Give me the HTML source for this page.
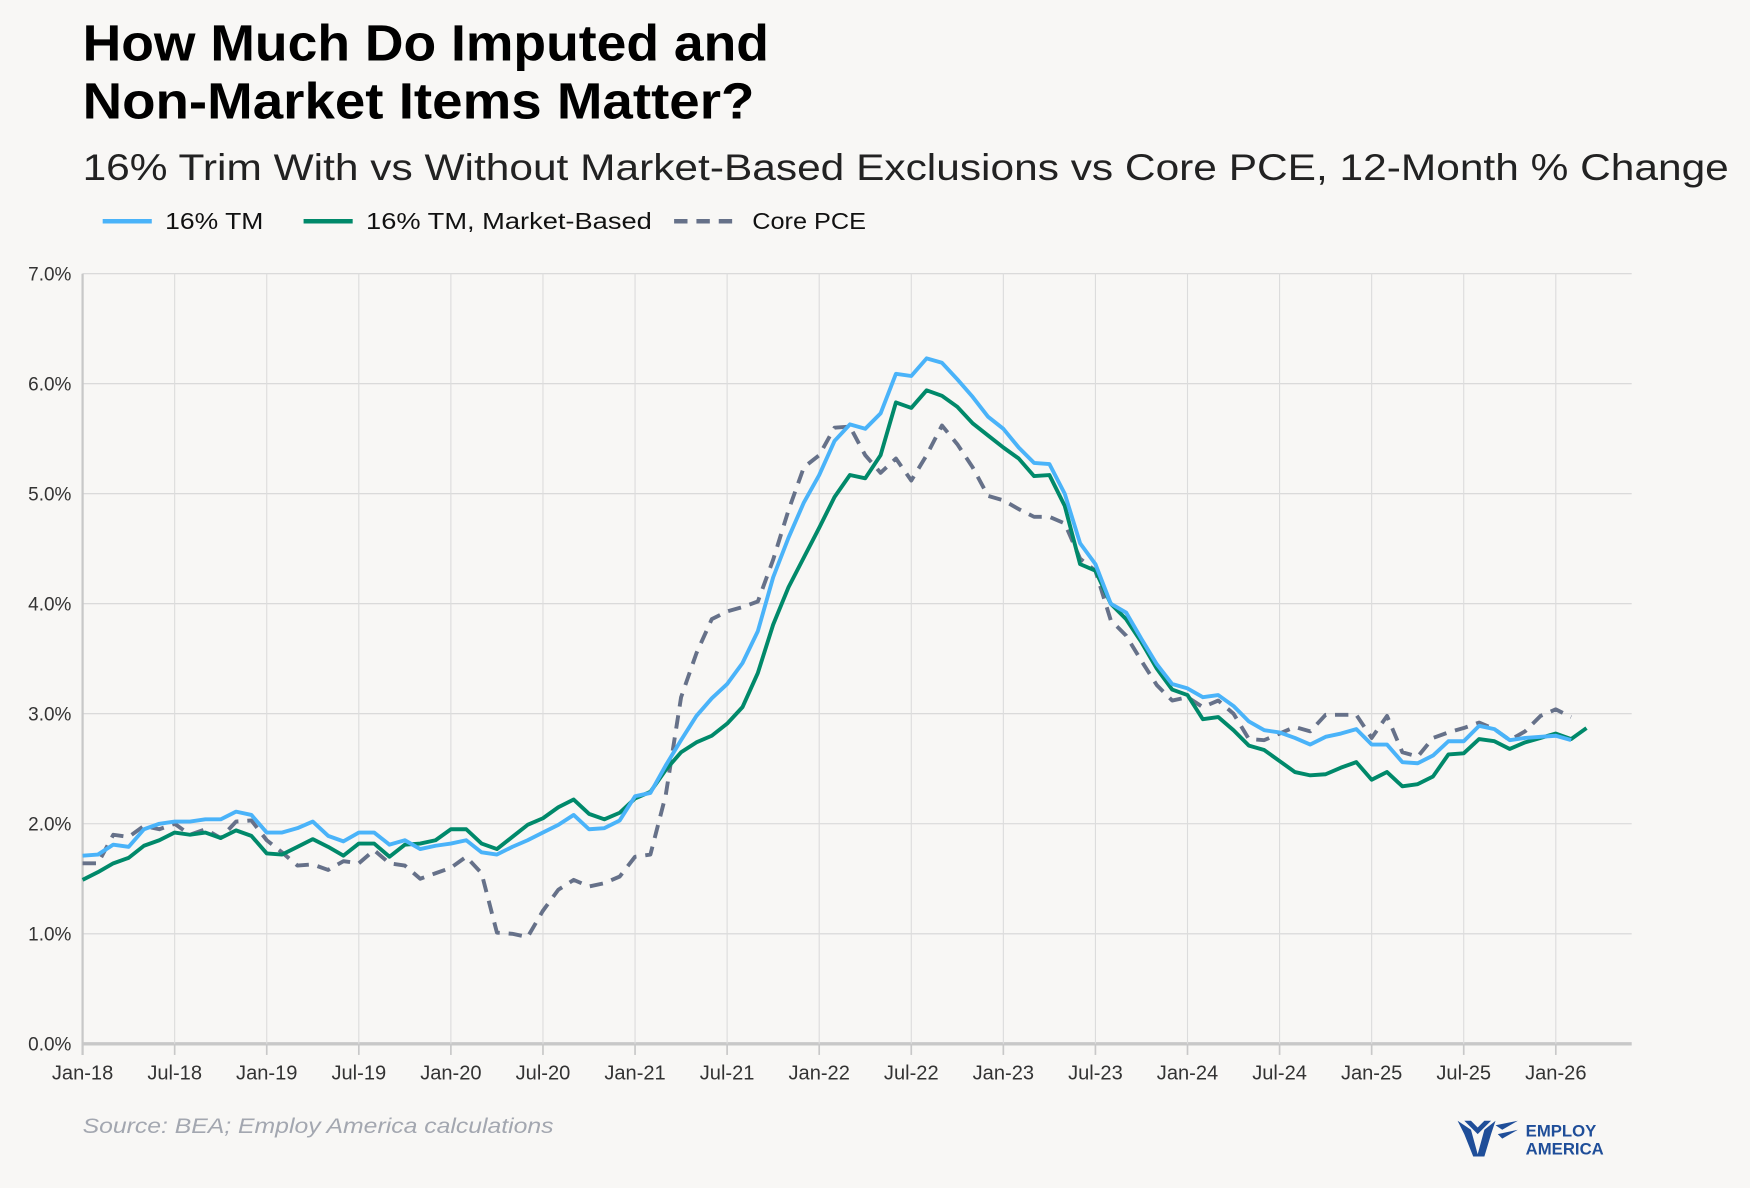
<!DOCTYPE html>
<html><head><meta charset="utf-8"><style>
html,body{margin:0;padding:0;background:#f8f7f5;}
svg{display:block;font-family:"Liberation Sans",sans-serif;}
</style></head><body>
<svg id="chart" width="1750" height="1188" viewBox="0 0 1568 1064" xmlns="http://www.w3.org/2000/svg">
<rect width="1568" height="1064" fill="#f8f7f5"/>
<text x="74" y="54" font-size="46" font-weight="bold" fill="#000" textLength="615" lengthAdjust="spacingAndGlyphs">How Much Do Imputed and</text>
<text x="74" y="106" font-size="46" font-weight="bold" fill="#000" textLength="602" lengthAdjust="spacingAndGlyphs">Non-Market Items Matter?</text>
<text x="74" y="161" font-size="33" fill="#222" textLength="1475" lengthAdjust="spacingAndGlyphs">16% Trim With vs Without Market-Based Exclusions vs Core PCE, 12-Month % Change</text>
<g>
<g><line x1="92" y1="198" x2="136" y2="198" stroke="#4ab3f9" stroke-width="4"/><text x="148" y="205" font-size="21" fill="#111" textLength="88" lengthAdjust="spacingAndGlyphs">16% TM</text></g>
<g><line x1="272" y1="198" x2="316" y2="198" stroke="#00896a" stroke-width="4"/><text x="328" y="205" font-size="21" fill="#111" textLength="256" lengthAdjust="spacingAndGlyphs">16% TM, Market-Based</text></g>
<g><line x1="604" y1="198" x2="656" y2="198" stroke="#667189" stroke-width="4" stroke-dasharray="12,8"/><text x="674" y="205" font-size="21" fill="#111" textLength="102" lengthAdjust="spacingAndGlyphs">Core PCE</text></g>
</g>
<g id="grid"></g>
<g id="axes"></g>
<g id="series"></g>
<text x="74" y="1015" font-size="19" font-style="italic" fill="#a3a7b0" textLength="422" lengthAdjust="spacingAndGlyphs">Source: BEA; Employ America calculations</text>
<g>
<path d="M1306 1004 L1318 1012 L1324 1034 L1330 1012 L1340 1004 L1336 1016 L1330 1036 L1320 1036 L1312 1016 Z" fill="#1f4e99"/>
<path d="M1318 1004 L1324 1010 L1330 1004 L1336 1004 L1324 1016 L1312 1004 Z" fill="#1f4e99"/>
<path d="M1340 1008 L1360 1004 L1346 1012 Z M1342 1016 L1360 1012 L1346 1020 Z" fill="#1f4e99"/>
<text x="1367" y="1018" font-size="15" font-weight="bold" fill="#1f4e99">EMPLOY</text>
<text x="1367" y="1034" font-size="15" font-weight="bold" fill="#1f4e99">AMERICA</text>
</g>
</svg>
<script>
const xLabels = ["Jan-18","Jul-18","Jan-19","Jul-19","Jan-20","Jul-20","Jan-21","Jul-21","Jan-22","Jul-22","Jan-23","Jul-23","Jan-24","Jul-24","Jan-25","Jul-25","Jan-26"];
const yTicks = [0,1,2,3,4,5,6,7];
const tm16 = [1.71,1.72,1.81,1.79,1.95,2.00,2.02,2.02,2.04,2.04,2.11,2.08,
1.92,1.92,1.96,2.02,1.89,1.84,1.92,1.92,1.81,1.85,1.77,1.80,
1.82,1.85,1.74,1.72,1.79,1.85,1.92,1.99,2.08,1.95,1.96,2.03,
2.25,2.28,2.53,2.76,2.98,3.14,3.27,3.46,3.75,4.24,4.60,4.92,
5.17,5.48,5.63,5.59,5.73,6.09,6.07,6.23,6.19,6.04,5.88,5.70,
5.59,5.42,5.28,5.27,5.00,4.55,4.36,4.00,3.92,3.68,3.45,3.27,
3.23,3.15,3.17,3.07,2.93,2.85,2.83,2.78,2.72,2.79,2.82,2.86,
2.72,2.72,2.56,2.55,2.62,2.75,2.75,2.89,2.86,2.76,2.78,2.79,2.80,2.76];
const tm16Market = [1.49,1.56,1.64,1.69,1.80,1.85,1.92,1.90,1.92,1.87,1.94,1.89,
1.73,1.72,1.79,1.86,1.79,1.71,1.82,1.82,1.70,1.81,1.82,1.85,
1.95,1.95,1.82,1.77,1.88,1.99,2.05,2.15,2.22,2.09,2.04,2.10,
2.23,2.29,2.49,2.65,2.74,2.80,2.91,3.06,3.37,3.81,4.15,4.42,
4.69,4.97,5.17,5.14,5.35,5.83,5.78,5.94,5.89,5.79,5.64,5.53,
5.42,5.32,5.16,5.17,4.89,4.36,4.30,4.00,3.86,3.65,3.41,3.22,
3.17,2.95,2.97,2.85,2.71,2.67,2.57,2.47,2.44,2.45,2.51,2.56,
2.40,2.47,2.34,2.36,2.43,2.63,2.64,2.77,2.75,2.68,2.74,2.78,2.82,2.77,2.87];
const corePce = [1.64,1.64,1.90,1.88,1.98,1.95,2.00,1.90,1.95,1.87,2.02,2.03,
1.85,1.74,1.62,1.63,1.58,1.66,1.64,1.76,1.64,1.62,1.50,1.55,
1.60,1.70,1.55,1.01,1.00,0.97,1.21,1.40,1.49,1.43,1.46,1.52,
1.70,1.72,2.26,3.15,3.55,3.86,3.93,3.97,4.02,4.40,4.85,5.24,
5.35,5.60,5.61,5.35,5.19,5.32,5.12,5.35,5.62,5.45,5.24,4.98,
4.94,4.86,4.79,4.79,4.73,4.41,4.30,3.85,3.71,3.48,3.26,3.12,
3.15,3.06,3.12,3.00,2.77,2.76,2.82,2.88,2.84,2.99,2.99,2.99,
2.78,2.98,2.65,2.61,2.78,2.83,2.87,2.92,2.86,2.76,2.84,2.98,3.04,2.97];

const NS = "http://www.w3.org/2000/svg";
const X0 = 74, X1 = 1462, Y0 = 935, PXM = (1394 - 74) / 96, PXP = (935 - 245) / 7;
function xs(m){ return X0 + m * PXM; }
function ys(v){ return Y0 - v * PXP; }
function mk(tag, attrs, parent){ const e = document.createElementNS(NS, tag); for (const k in attrs) e.setAttribute(k, attrs[k]); parent.appendChild(e); return e; }
const grid = document.getElementById('grid'), axes = document.getElementById('axes'), series = document.getElementById('series');
yTicks.forEach(function(t){
  const l = mk('line', {x1: X0, x2: X1, y1: ys(t), y2: ys(t), stroke: t === 0 ? '#c8c8c8' : '#d6d6d6', 'stroke-width': t === 0 ? 3 : 1}, grid);
  
  
  const tx = mk('text', {x: 64, y: ys(t) + 6, 'font-size': 17, fill: '#333', 'text-anchor': 'end'}, axes);
  tx.textContent = t.toFixed(1) + '%';
  
  
});
xLabels.forEach(function(lab, i){
  const x = xs(i * 6);
  const l = mk('line', {x1: x, x2: x, y1: 245, y2: 945, stroke: '#dcdcdc', 'stroke-width': 1}, grid);
  
  
  const tk = mk('line', {x1: x, x2: x, y1: 935, y2: 945, stroke: '#c8c8c8', 'stroke-width': 1.5}, axes);
  
  
  const tx = mk('text', {x: x, y: 967, 'font-size': 18, fill: '#333', 'text-anchor': 'middle'}, axes);
  tx.textContent = lab;
  
  
});
const yAxis = mk('line', {x1: X0, x2: X0, y1: 245, y2: 945, stroke: '#c8c8c8', 'stroke-width': 2}, axes);


function drawLine(vals, color, dash, name){
  const d = vals.map(function(v, i){ return (i ? 'L' : 'M') + xs(i).toFixed(2) + ' ' + ys(v).toFixed(2); }).join(' ');
  const attrs = {d: d, fill: 'none', stroke: color, 'stroke-width': 3.5, 'stroke-linejoin': 'round'};
  if (dash) attrs['stroke-dasharray'] = dash;
  const p = mk('path', attrs, series);
  
  
}
drawLine(corePce, '#667189', '12,8', 'core-pce-line');
drawLine(tm16Market, '#00896a', null, 'tm16-market-based-line');
drawLine(tm16, '#4ab3f9', null, 'tm16-line');
</script>
</body></html>
